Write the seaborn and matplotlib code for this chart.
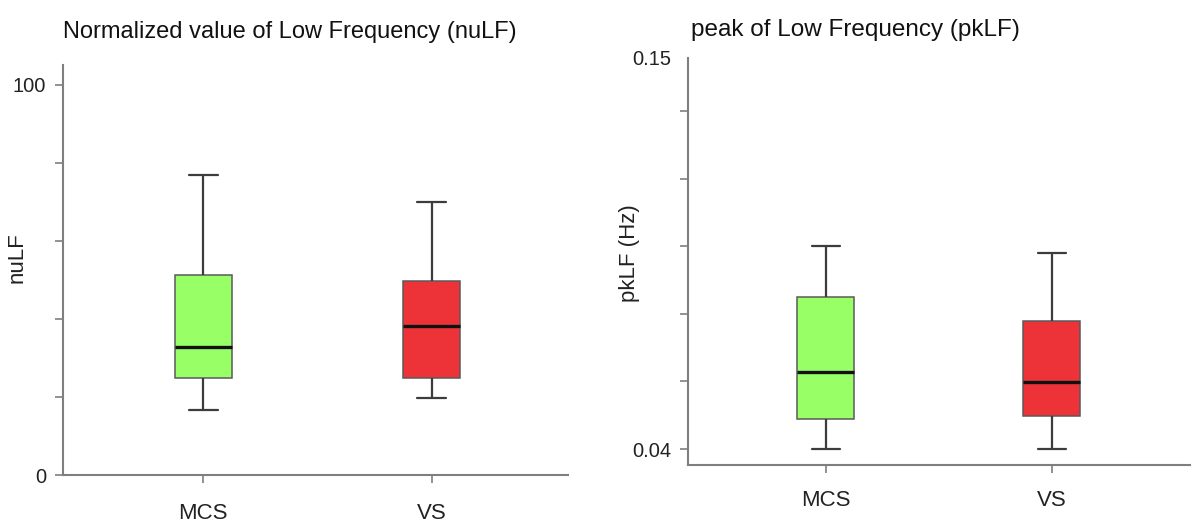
import numpy as np
import pandas as pd
import matplotlib
matplotlib.use("Agg")
import matplotlib.pyplot as plt
from matplotlib.ticker import FixedLocator
import seaborn as sns

# --- data: five-number summaries (min, q1, median, q3, max) ---
groups = ["MCS", "VS"]
nulf_mcs = [16.7, 24.8, 32.7, 51.3, 76.9]
nulf_vs = [19.8, 24.8, 38.3, 49.8, 69.9]
pklf_mcs = [0.0400, 0.0484, 0.0617, 0.0827, 0.0971]
pklf_vs = [0.0400, 0.0494, 0.0588, 0.0761, 0.0951]
box_colors = ["#99FF66", "#EE3338"]

df_nu = pd.DataFrame({"group": ["MCS"] * 5 + ["VS"] * 5, "value": nulf_mcs + nulf_vs})
df_pk = pd.DataFrame({"group": ["MCS"] * 5 + ["VS"] * 5, "value": pklf_mcs + pklf_vs})

sns.set_style("white")
plt.rcParams["font.family"] = ["Liberation Sans", "DejaVu Sans"]

fig = plt.figure(figsize=(12, 5.32), dpi=100)
ax1 = fig.add_axes([0.0525, 0.1071, 0.4208, 0.7707])
ax2 = fig.add_axes([0.5733, 0.1259, 0.4184, 0.7651])

spine_col = "#7f7f7f"
box_kw = dict(
    x="group", y="value", hue="group", palette=box_colors, order=groups,
    width=0.25, whis=(0, 100), saturation=1, legend=False, linecolor="#555555",
    boxprops=dict(linewidth=1.1, edgecolor="#5a5a5a"),
    whiskerprops=dict(linewidth=1.6, color="#3c3c3c"),
    capprops=dict(linewidth=1.6, color="#3c3c3c"),
    medianprops=dict(linewidth=2.4, color="#111111"),
)

sns.boxplot(data=df_nu, ax=ax1, **box_kw)
sns.boxplot(data=df_pk, ax=ax2, **box_kw)

for ax in (ax1, ax2):
    sns.despine(ax=ax)
    for s in ("left", "bottom"):
        ax.spines[s].set_color(spine_col)
        ax.spines[s].set_linewidth(1.5)
    ax.set_xlabel("")
    ax.tick_params(axis="both", which="both", direction="out", color=spine_col,
                   length=6, width=1.2, left=True, bottom=True)
    ax.tick_params(axis="y", labelsize=14.5, pad=6, labelcolor="#222222")
    ax.tick_params(axis="x", labelsize=16, labelcolor="#222222")

# left panel
ax1.set_xlim(-0.614, 1.597)
ax1.set_ylim(0, 105.1)
ax1.set_yticks([0, 100])
ax1.yaxis.set_minor_locator(FixedLocator([20, 40, 60, 80]))
ax1.tick_params(axis="x", pad=14)
ax1.set_ylabel("nuLF", fontsize=16, color="#222222")
ax1.yaxis.set_label_coords(-0.071, 0.53)

# right panel
ax2.set_xlim(-0.609, 1.612)
ax2.set_ylim(0.0355, 0.15)
ax2.set_yticks([0.04, 0.15])
ax2.set_yticklabels(["0.04", "0.15"])
ax2.yaxis.get_major_ticks()[1].tick1line.set_visible(False)
ax2.yaxis.set_minor_locator(FixedLocator([0.059, 0.078, 0.097, 0.116, 0.135]))
ax2.tick_params(axis="x", pad=12)
ax2.set_ylabel("pkLF (Hz)", fontsize=16, color="#222222")
ax2.yaxis.set_label_coords(-0.096, 0.52)

fig.text(0.0525, 1 - 32 / 532, "Normalized value of Low Frequency (nuLF)",
         fontsize=17, va="center", ha="left", color="#111111")
fig.text(0.576, 1 - 30 / 532, "peak of Low Frequency (pkLF)",
         fontsize=17.5, va="center", ha="left", color="#111111")

fig.savefig("out.png", dpi=100)
